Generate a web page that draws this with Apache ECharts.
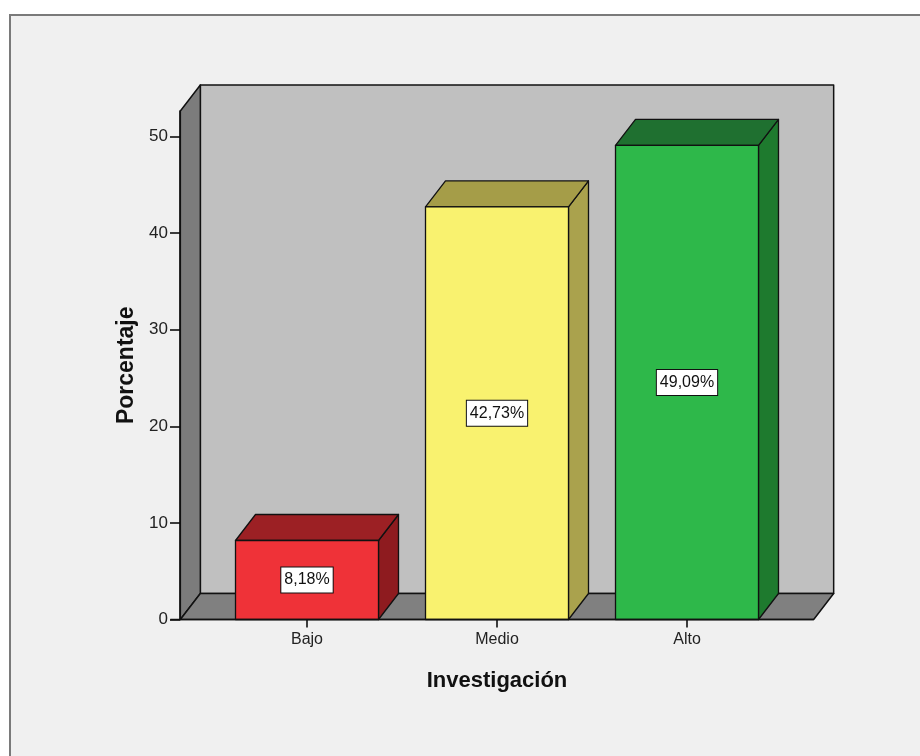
<!DOCTYPE html>
<html>
<head>
<meta charset="utf-8">
<script src="https://cdn.jsdelivr.net/npm/echarts@6/dist/echarts.min.js"></script>
<style>
html,body{margin:0;padding:0;background:#ffffff;}
#chart{width:920px;height:756px;}
</style>
</head>
<body>
<div id="chart"></div>
<script>
// ---- data ----
const categories = ['Bajo', 'Medio', 'Alto'];
const values = [8.18, 42.73, 49.09];
const yTicks = [0, 10, 20, 30, 40, 50];
const yMax = 52.66;
const xTitle = 'Investigación';
const yTitle = 'Porcentaje';

// ---- styles ----
const frontColors = ['#ef3238', '#f9f26f', '#2eb84a'];
const topColors = ['#9c2024', '#a59d48', '#1f7030'];
const sideColors = ['#8e1b1f', '#aaa24d', '#1e7a2e'];
const DX = 20, DY = -26;
const FONT = '"Liberation Sans", Arial, sans-serif';

const chart = echarts.init(document.getElementById('chart'));

function fmt(v) { return v.toFixed(2).replace('.', ',') + '%'; }

const option = {
  animation: false,
  backgroundColor: '#ffffff',
  graphic: [{
    type: 'rect', z: -10, silent: true,
    shape: { x: 10, y: 15, width: 1000, height: 1000 },
    style: { fill: '#f0f0f0', stroke: '#7a7a7a', lineWidth: 2 }
  }],
  grid: { left: 212, right: 138, top: 111, bottom: 136.5 },
  xAxis: {
    type: 'category',
    data: categories,
    axisLine: { show: false },
    axisTick: { show: true, alignWithLabel: true, length: 8, lineStyle: { color: '#000', width: 1.5 } },
    axisLabel: { color: '#222', fontSize: 16, fontFamily: FONT, margin: 12 },
    name: xTitle,
    nameLocation: 'middle',
    nameGap: 50,
    nameTextStyle: { color: '#111', fontSize: 22, fontWeight: 'bold', fontFamily: FONT }
  },
  yAxis: {
    type: 'value',
    min: 0, max: yMax,
    offset: 32,
    splitLine: { show: false },
    axisLine: { show: true, lineStyle: { color: '#000', width: 1.5 } },
    axisTick: { show: true, inside: false, length: 10, customValues: yTicks, lineStyle: { color: '#000', width: 1.5 } },
    axisLabel: { color: '#222', fontSize: 17, fontFamily: FONT, margin: 12, customValues: yTicks },
    name: yTitle,
    nameLocation: 'middle',
    nameGap: 42,
    nameRotate: 90,
    nameTextStyle: { color: '#111', fontSize: 23, fontWeight: 'bold', fontFamily: FONT }
  },
  series: [
    {
      type: 'custom',
      z: 1,
      silent: true,
      clip: false,
      data: [[0, 0]],
      renderItem: function (params, api) {
        const band = api.size([1, 0])[0];
        const c0 = api.coord([0, 0]);
        const c2 = api.coord([categories.length - 1, 0]);
        const ct = api.coord([0, yMax]);
        const xl = c0[0] - band * (0.5 + 1 / 6);
        const xr = c2[0] + band * (0.5 + 1 / 6);
        const yb = c0[1], yt = ct[1];
        const stroke = { stroke: '#111', lineWidth: 1.5, lineJoin: 'round' };
        return {
          type: 'group',
          children: [
            { type: 'polygon', shape: { points: [[xl + DX, yt + DY], [xr + DX, yt + DY], [xr + DX, yb + DY], [xl + DX, yb + DY]] },
              style: Object.assign({ fill: '#c0c0c0' }, stroke) },
            { type: 'polygon', shape: { points: [[xl, yb], [xl, yt], [xl + DX, yt + DY], [xl + DX, yb + DY]] },
              style: Object.assign({ fill: '#7c7c7c' }, stroke) },
            { type: 'polygon', shape: { points: [[xl, yb], [xl + DX, yb + DY], [xr + DX, yb + DY], [xr, yb]] },
              style: Object.assign({ fill: '#808080' }, stroke) }
          ]
        };
      }
    },
    {
      type: 'custom',
      z: 2,
      clip: false,
      data: values.map(function (v, i) { return [i, v]; }),
      renderItem: function (params, api) {
        const i = api.value(0), v = api.value(1);
        const band = api.size([1, 0])[0];
        const base = api.coord([i, 0]);
        const top = api.coord([i, v]);
        const w = band * 0.7526;
        const x0 = base[0] - w / 2;
        const stroke = { stroke: '#111', lineWidth: 1.3, lineJoin: 'round' };
        return {
          type: 'group',
          children: [
            { type: 'polygon', shape: { points: [[x0 + w, top[1]], [x0 + w + DX, top[1] + DY], [x0 + w + DX, base[1] + DY], [x0 + w, base[1]]] },
              style: Object.assign({ fill: sideColors[i] }, stroke) },
            { type: 'polygon', shape: { points: [[x0, top[1]], [x0 + DX, top[1] + DY], [x0 + w + DX, top[1] + DY], [x0 + w, top[1]]] },
              style: Object.assign({ fill: topColors[i] }, stroke) },
            { type: 'rect', shape: { x: x0, y: top[1], width: w, height: base[1] - top[1] },
              style: Object.assign({ fill: frontColors[i] }, stroke) },
            { type: 'text', x: base[0], y: (base[1] + top[1]) / 2,
              style: { text: fmt(v), align: 'center', verticalAlign: 'middle', fill: '#111',
                       fontSize: 16, fontFamily: FONT, backgroundColor: '#ffffff',
                       borderColor: '#111', borderWidth: 1, padding: [5, 3, 4, 3] } }
          ]
        };
      }
    },
    {
      type: 'custom',
      z: 3,
      silent: true,
      clip: false,
      data: [[0, 0]],
      renderItem: function (params, api) {
        const band = api.size([1, 0])[0];
        const c0 = api.coord([0, 0]);
        const c2 = api.coord([categories.length - 1, 0]);
        const xl = c0[0] - band * (0.5 + 1 / 6);
        const xr = c2[0] + band * (0.5 + 1 / 6);
        return { type: 'line', shape: { x1: xl - 10, y1: c0[1], x2: xr, y2: c0[1] },
                 style: { stroke: '#111', lineWidth: 1.5 } };
      }
    }
  ]
};
chart.setOption(option);
</script>
</body>
</html>
